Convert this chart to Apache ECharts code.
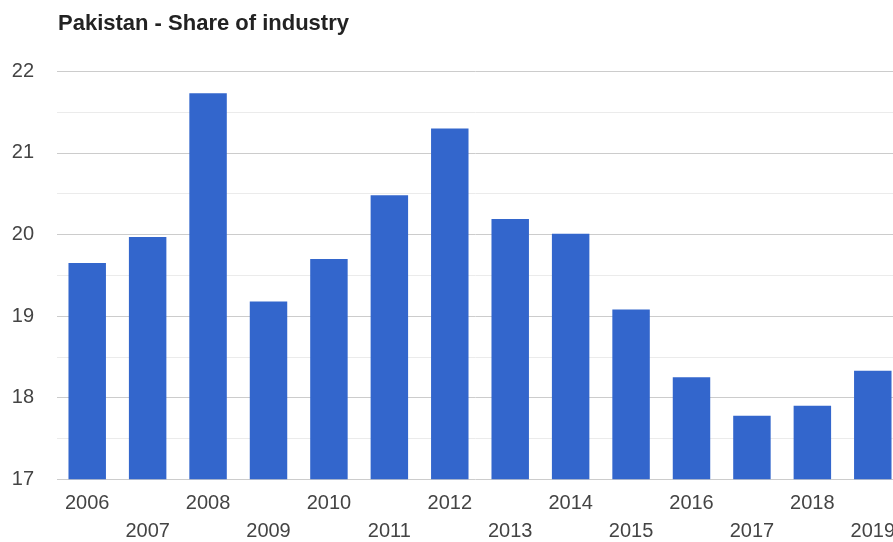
<!DOCTYPE html>
<html>
<head>
<meta charset="utf-8">
<script src="https://cdn.jsdelivr.net/npm/echarts@6/dist/echarts.min.js"></script>
<style>
  html, body { margin: 0; padding: 0; background: #fff; }
  #chart { width: 893px; height: 542px; }
</style>
</head>
<body>
<div id="chart"></div>
<script>
// Pakistan: industry's share of GDP (%), by year
const years = ['2006', '2007', '2008', '2009', '2010', '2011', '2012',
               '2013', '2014', '2015', '2016', '2017', '2018', '2019'];
const industryShare = [19.65, 19.97, 21.73, 19.18, 19.70, 20.48, 21.30,
                       20.19, 20.01, 19.08, 18.25, 17.78, 17.90, 18.33];
const yTicks = [17, 18, 19, 20, 21, 22];

const chart = echarts.init(document.getElementById('chart'), null, { renderer: 'canvas' });

chart.setOption({
  animation: false,
  backgroundColor: '#ffffff',
  title: {
    text: 'Pakistan - Share of industry',
    left: 53,
    top: 8,
    textStyle: {
      fontFamily: 'Liberation Sans, Arial, sans-serif',
      fontSize: 22,
      fontWeight: 'bold',
      color: '#222222'
    }
  },
  grid: {
    left: 57,
    top: 71.3,
    width: 846,
    bottom: 62.7,
    containLabel: false,
    // the plot runs past the right edge of the canvas
    outerBoundsMode: 'none'
  },
  xAxis: {
    type: 'category',
    data: years,
    axisLine: { show: false },
    axisTick: { show: false },
    axisLabel: {
      interval: 0,
      margin: 10,
      hideOverlap: false,
      fontFamily: 'Liberation Sans, Arial, sans-serif',
      fontSize: 20,
      lineHeight: 28,
      color: '#444444',
      // alternate years drop to a second row
      formatter: (value, index) => (index % 2 === 1 ? '\n' + value : value)
    }
  },
  yAxis: {
    type: 'value',
    min: yTicks[0],
    max: yTicks[yTicks.length - 1],
    interval: 1,
    axisLine: { show: false },
    axisTick: { show: false },
    axisLabel: {
      margin: 23,
      fontFamily: 'Liberation Sans, Arial, sans-serif',
      fontSize: 20,
      color: '#444444'
    },
    splitLine: { show: true, lineStyle: { color: '#cccccc', width: 1 } },
    minorTick: { show: false, splitNumber: 2 },
    minorSplitLine: { show: true, lineStyle: { color: '#ebebeb', width: 1 } }
  },
  series: [{
    type: 'bar',
    data: industryShare,
    barCategoryGap: '38%',
    itemStyle: { color: '#3366cc' }
  }]
});
</script>
</body>
</html>
